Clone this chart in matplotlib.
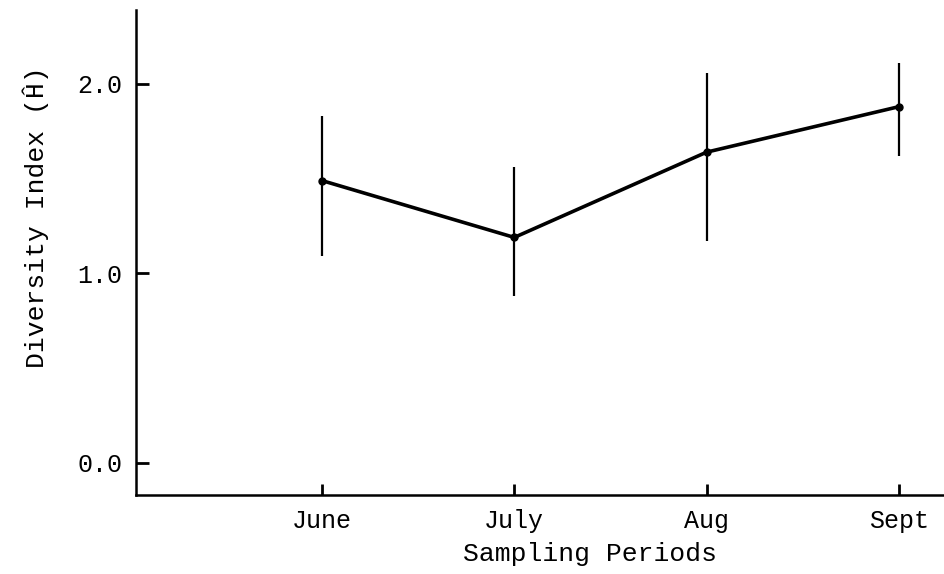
import matplotlib.pyplot as plt

# sampling periods and diversity index
months = ['June', 'July', 'Aug', 'Sept']
h_mean = [1.49, 1.19, 1.64, 1.88]
h_low = [1.09, 0.88, 1.17, 1.62]
h_high = [1.83, 1.56, 2.06, 2.11]
y_ticks = [0.0, 1.0, 2.0]

plt.rcParams['font.family'] = ['Liberation Mono', 'DejaVu Sans Mono']

fig = plt.figure(figsize=(9.44, 5.74), dpi=100)
ax = fig.add_axes([0.144, 0.1376, 0.856, 0.845])

x = list(range(1, len(months) + 1))
err_lo = [m - lo for m, lo in zip(h_mean, h_low)]
err_hi = [hi - m for m, hi in zip(h_mean, h_high)]

ax.errorbar(x, h_mean, yerr=[err_lo, err_hi], fmt='none', ecolor='black',
            elinewidth=1.6, capsize=0)
ax.plot(x, h_mean, color='black', linewidth=2.6, marker='o', markersize=5)

ax.set_xlim(0.033, 4.234)
ax.set_ylim(-0.169, 2.39)

ax.set_xticks(x)
ax.set_xticklabels(months)
ax.set_yticks(y_ticks)
ax.set_yticklabels(['%.1f' % t for t in y_ticks])

ax.spines['top'].set_visible(False)
ax.spines['right'].set_visible(False)
ax.spines['left'].set_linewidth(1.8)
ax.spines['bottom'].set_linewidth(1.8)

ax.tick_params(axis='both', direction='in', length=8, width=2, labelsize=18, pad=10)
ax.tick_params(axis='y', length=9)

ax.set_xlabel('Sampling Periods', fontsize=19)
ax.set_ylabel('Diversity Index (Ĥ)', fontsize=19)
ax.xaxis.set_label_coords(0.562, -0.097)
ax.yaxis.set_label_coords(-0.108, 0.573)

fig.savefig('out.png', dpi=100)
